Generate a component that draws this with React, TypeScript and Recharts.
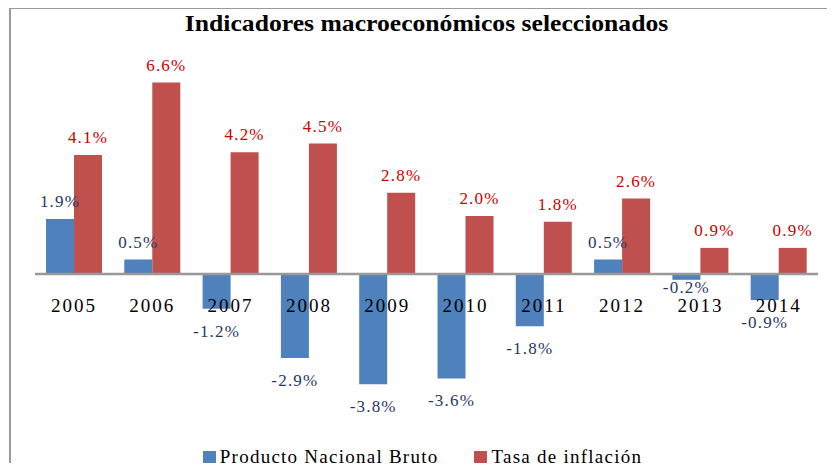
import React from 'react';
import { BarChart, Bar, XAxis, YAxis, ReferenceLine, LabelList } from 'recharts';

const YEARS = ['2005', '2006', '2007', '2008', '2009', '2010', '2011', '2012', '2013', '2014'];
const PNB = [1.9, 0.5, -1.2, -2.9, -3.8, -3.6, -1.8, 0.5, -0.2, -0.9];
const INFLACION = [4.1, 6.6, 4.2, 4.5, 2.8, 2.0, 1.8, 2.6, 0.9, 0.9];

const BLUE = '#4f81bd';
const RED = '#c0504d';
const SERIF = '"Liberation Serif", "Times New Roman", serif';

const data = YEARS.map((year, i) => ({ year, pnb: PNB[i], inflacion: INFLACION[i] }));

const fmt = (v: number) => `${v.toFixed(1)}%`;

// value label: outside end, above positive bars, below negative ones
function valueLabel(color: string) {
  return (props: any) => {
    const vb = props.viewBox || props;
    const { x, y, width, height } = vb;
    const v = Number(props.value);
    const top = Math.min(y, y + height);
    const bottom = Math.max(y, y + height);
    const cx = x + width / 2;
    const short = Math.abs(height) < 10;
    const ty = v >= 0 ? top - 12 : bottom + (short ? 13 : 28);
    return (
      <text x={cx} y={ty} textAnchor="middle" fill={color} style={{ fontFamily: SERIF }} fontSize={17} letterSpacing={1.2}>
        {fmt(v)}
      </text>
    );
  };
}

// year label, just under the zero line at the group centre (left edge of the red bar)
const yearLabel = (props: any) => {
  const vb = props.viewBox || props;
  const { x, y, height } = vb;
  const zero = Math.max(y, y + height);
  return (
    <text x={x} y={zero + 38} textAnchor="middle" fill="#000" style={{ fontFamily: SERIF }} fontSize={19} letterSpacing={2}>
      {props.value}
    </text>
  );
};

function LegendItem({ color, label }: { color: string; label: string }) {
  return (
    <div style={{ display: 'flex', alignItems: 'center' }}>
      <div style={{ width: 13, height: 12, background: color, marginRight: 4 }} />
      <span style={{ fontFamily: SERIF, fontSize: 19, letterSpacing: 1.25 }}>{label}</span>
    </div>
  );
}

export default function App() {
  return (
    <div style={{ margin: -8, width: 835, height: 471, position: 'relative', overflow: 'hidden', background: '#fff' }}>
      <div
        style={{
          position: 'absolute', left: 9, top: 7, width: 900, height: 600,
          borderTop: '2px solid #9a9a9a', borderLeft: '2px solid #9a9a9a',
        }}
      />
      <div
        style={{
          position: 'absolute', left: 0, top: 11, width: 853, textAlign: 'center',
          fontFamily: SERIF, fontWeight: 'bold', fontSize: 23, whiteSpace: 'nowrap',
          transform: 'scaleX(1.115)', transformOrigin: '426px 0',
        }}
      >
        Indicadores macroeconómicos seleccionados
      </div>
      <div style={{ position: 'absolute', left: 0, top: 0 }}>
        <BarChart
          width={835}
          height={471}
          data={data}
          margin={{ top: 71, right: 17, bottom: 81, left: 35 }}
          barGap={0}
          barCategoryGap={11}
        >
          <XAxis dataKey="year" hide />
          <YAxis hide domain={[-4, 7]} />
          <Bar dataKey="pnb" name="Producto Nacional Bruto" fill={BLUE} isAnimationActive={false}>
            <LabelList dataKey="pnb" content={valueLabel('#1f3864')} />
          </Bar>
          <Bar dataKey="inflacion" name="Tasa de inflación" fill={RED} isAnimationActive={false}>
            <LabelList dataKey="inflacion" content={valueLabel('#cc0000')} />
            <LabelList dataKey="year" content={yearLabel} />
          </Bar>
          <ReferenceLine y={0} stroke="#999" strokeWidth={2.5} />
        </BarChart>
      </div>
      <div
        style={{
          position: 'absolute', left: 0, top: 446, width: 845, display: 'flex',
          justifyContent: 'center', gap: 36,
        }}
      >
        <LegendItem color={BLUE} label="Producto Nacional Bruto" />
        <LegendItem color={RED} label="Tasa de inflación" />
      </div>
    </div>
  );
}
